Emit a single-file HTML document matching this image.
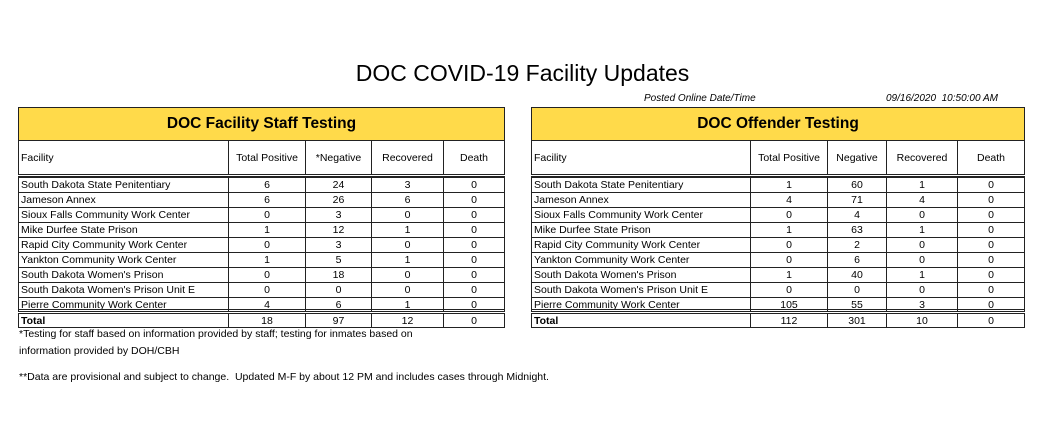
<!DOCTYPE html>
<html><head><meta charset="utf-8">
<style>
body{margin:0;width:1045px;height:438px;background:#fff;position:relative;overflow:hidden;font-family:"Liberation Sans",sans-serif;color:#000}
.a{position:absolute;white-space:nowrap}
.c{position:absolute;box-sizing:border-box;font-size:10.5px;line-height:14px;overflow:hidden;white-space:nowrap}
</style></head><body>
<div class="a" style="left:0;width:1045px;top:60px;text-align:center;font-size:23px">DOC COVID-19 Facility Updates</div>
<div class="a" style="left:644px;top:93px;font-size:10px;font-style:italic">Posted Online Date/Time</div>
<div class="a" style="left:886px;top:93px;font-size:10px;font-style:italic">09/16/2020&nbsp; 10:50:00 AM</div>
<div id="tables"></div>
<div class="a" style="left:19px;top:326px;font-size:10.5px;line-height:17px">*Testing for staff based on information provided by staff; testing for inmates based on<br>information provided by DOH/CBH</div>
<div class="a" style="left:19px;top:371px;font-size:10.5px">**Data are provisional and subject to change.&nbsp; Updated M-F by about 12 PM and includes cases through Midnight.</div>
<script>
const facilities=["South Dakota State Penitentiary","Jameson Annex","Sioux Falls Community Work Center","Mike Durfee State Prison","Rapid City Community Work Center","Yankton Community Work Center","South Dakota Women's Prison","South Dakota Women's Prison Unit E","Pierre Community Work Center"];
const staffPositive=[6,6,0,1,0,1,0,0,4];
const staffNegative=[24,26,3,12,3,5,18,0,6];
const staffRecovered=[3,6,0,1,0,1,0,0,1];
const staffDeath=[0,0,0,0,0,0,0,0,0];
const staffTotal=[18,97,12,0];
const offPositive=[1,4,0,1,0,0,1,0,105];
const offNegative=[60,71,4,63,2,6,40,0,55];
const offRecovered=[1,4,0,1,0,0,1,0,3];
const offDeath=[0,0,0,0,0,0,0,0,0];
const offTotal=[112,301,10,0];
const root=document.getElementById('tables');
function mk(x,y,w,h,css,txt,name){const d=document.createElement('div');d.className='c';
d.style.cssText=`left:${x}px;top:${y}px;width:${w}px;height:${h}px;`+css;if(txt!==undefined)d.textContent=txt;


root.appendChild(d);return d;}
function table(x0,cols,title,heads,cols4,totals,key){
  const W=cols[cols.length-1]-x0;
  mk(x0,107,W,34,'background:#FFDA4A;border:1.5px solid #222;font-weight:bold;font-size:15.5px;line-height:31px;text-align:center',title,key+'-title');
  const top=141,hh=34,rh=15,dataTop=177;
  for(let c=0;c<5;c++){
    const x=cols[c],w=cols[c+1]-x;
    mk(x,top,w,hh,'border-left:1px solid #222;'+(c==4?'border-right:1.5px solid #222;':'')+(c==0?'border-left:1.5px solid #222;text-align:left;padding-left:2px;':'text-align:center;')+'line-height:34px;',heads[c],key+'-header-'+c);
    for(let r=0;r<=9;r++){
      const y=dataTop+r*rh+(r==9?1:0);
      let t;
      if(r<9)t=c==0?facilities[r]:cols4[c-1][r];else t=c==0?'Total':totals[c-1];
      mk(x,y,w,rh,'border-left:1px solid #222;border-top:1px solid #222;'+(c==4?'border-right:1.5px solid #222;':'')+(c==0?'border-left:1.5px solid #222;text-align:left;padding-left:2px;':'text-align:center;')+(r==9?'font-weight:'+(c==0?'bold':'normal')+';border-bottom:1.5px solid #222;height:15px;':''),String(t),key+(r<9?'-row-'+r:'-total')+'-col-'+c);
    }
  }
  mk(x0,174,W,3,'border-top:1px solid #222;border-bottom:1px solid #222;','',key+'-header-rule');
  mk(x0,309,W,3,'border-top:1px solid #222;border-bottom:1px solid #222;','',key+'-total-rule');
}
table(18,[18,228,305,371,443,505],'DOC Facility Staff Testing',['Facility','Total Positive','*Negative','Recovered','Death'],[staffPositive,staffNegative,staffRecovered,staffDeath],staffTotal,'staff');
table(531,[531,750,827,886,957,1025],'DOC Offender Testing',['Facility','Total Positive','Negative','Recovered','Death'],[offPositive,offNegative,offRecovered,offDeath],offTotal,'offender');
</script>
</body></html>
